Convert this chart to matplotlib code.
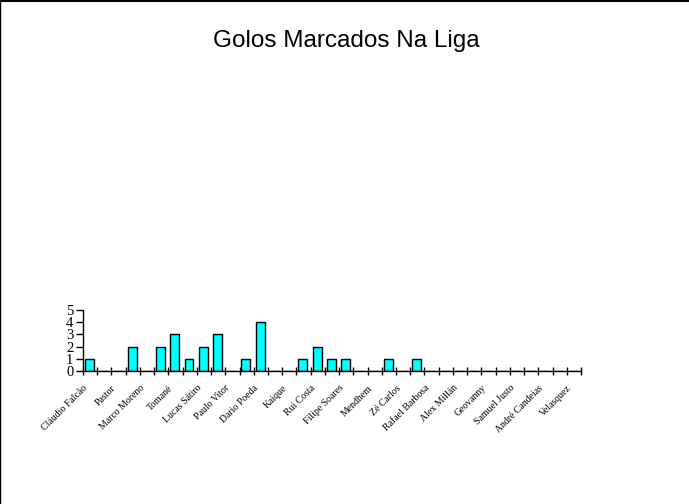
import matplotlib.pyplot as plt
import numpy as np
from matplotlib.lines import Line2D
from matplotlib.transforms import ScaledTranslation

# Jogadores (só os rótulos visíveis, um em cada dois)
jogadores = ["Cláudio Falcão", "Pastor", "Marco Moreno", "Tomané", "Lucas Sátiro",
             "Paulo Vitor", "Dario Poeda", "Kaique", "Rui Costa", "Filipe Soares",
             "Mendhem", "Zé Carlos", "Rafael Barbosa", "Alex Millán", "Geovanny",
             "Samuel Justo", "André Candeias", "Velasquez"]

# Golos por posição (35 posições)
golos = [1, 0, 0, 2, 0, 2, 3, 1, 2, 3, 0, 1, 4, 0, 0, 1, 2, 1, 1, 0,
         0, 1, 0, 1, 0, 0, 0, 0, 0, 0, 0, 0, 0, 0, 0]

n = len(golos)
fig = plt.figure(figsize=(6.89, 5.04), dpi=100)
ax = fig.add_axes([83 / 689, 1 - 371 / 504, (581 - 83) / 689, (371 - 310) / 504])

x = np.arange(n)
ax.bar(x + 0.45, golos, width=0.63, color="#00ffff", edgecolor="black", linewidth=1)

ax.set_xlim(0, n)
ax.set_ylim(0, 5)

# rótulos nas marcas pares, vazios nas ímpares
rotulos = [""] * (n + 1)
for i, nome in enumerate(jogadores):
    rotulos[2 * i] = nome
ax.set_xticks(np.arange(n + 1))
ax.set_xticklabels(rotulos, rotation=45, ha="right", rotation_mode="anchor",
                   fontfamily="Liberation Serif", fontsize=7)
desloc = ScaledTranslation(-4 / 100, -2 / 100, fig.dpi_scale_trans)
for lbl in ax.get_xticklabels():
    lbl.set_transform(lbl.get_transform() + desloc)
ax.set_yticks(range(6))
ax.set_yticklabels([str(v) for v in range(6)], fontfamily="Liberation Serif", fontsize=10.5)
ax.tick_params(axis="x", length=6, direction="inout", width=1, pad=6)
ax.tick_params(axis="y", length=5, direction="out", width=1, pad=2)

for s in ["top", "right"]:
    ax.spines[s].set_visible(False)
ax.spines["left"].set_linewidth(1)
ax.spines["bottom"].set_linewidth(1)

fig.text(0.502, 1 - 46.5 / 504, "Golos Marcados Na Liga", ha="center", va="baseline",
         fontfamily="Liberation Sans", fontsize=17.5)

# moldura (esquerda e topo)
fig.add_artist(Line2D([0.0007, 0.0007], [0, 1], transform=fig.transFigure, color="black", linewidth=1))
fig.add_artist(Line2D([0, 1], [0.998, 0.998], transform=fig.transFigure, color="black", linewidth=1.5))

fig.savefig("out.png", dpi=100)
